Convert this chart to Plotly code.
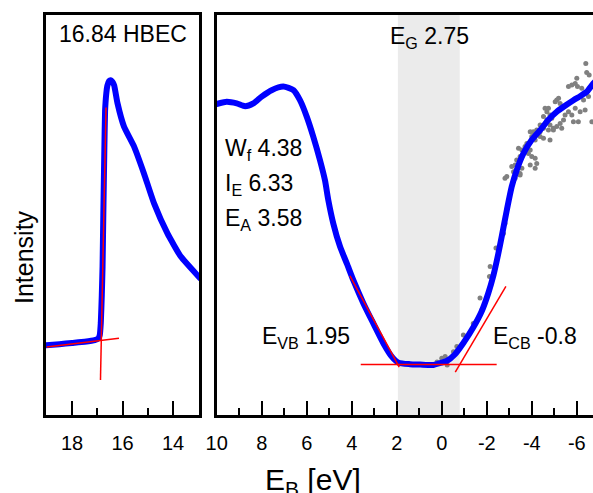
import plotly.graph_objects as go

# ---------------- data ----------------
# secondary electron cutoff (left panel)
cut_e = [19.1, 18.5, 18.0, 17.5, 17.1, 16.95, 16.9, 16.86, 16.82, 16.79, 16.76, 16.72,
         16.69, 16.64, 16.6, 16.53, 16.47, 16.40, 16.33, 16.2, 15.94, 15.54, 15.15,
         14.75, 14.22, 13.69, 12.9]
cut_i = [17.4, 17.7, 18.0, 18.3, 18.7, 19.2, 20.0, 23.0, 30.0, 37.1, 50.0, 66.0,
         76.0, 80.5, 82.3, 83.5, 83.7, 83.3, 82.4, 78.0, 72.1, 67.1, 60.4,
         52.9, 45.4, 39.6, 34.0]

# valence / conduction band spectrum (right panel, smoothed)
spec_e = [10.1, 9.97, 9.56, 9.11, 8.74, 8.37, 8.0, 7.56, 7.04, 6.59, 6.30, 6.0, 5.71,
          5.41, 5.19, 5.04, 4.82, 4.52, 4.22, 3.93, 3.48, 3.04, 2.59, 2.22, 1.93,
          1.41, 0.96, 0.37, 0.07, -0.22, -0.59, -0.96, -1.41, -1.78, -2.07, -2.30,
          -2.50, -2.67, -2.89, -3.11, -3.33, -3.63, -4.0, -4.37, -4.74, -5.11,
          -5.48, -5.85, -6.15, -6.44, -6.73, -6.9]
spec_i = [77.6, 77.8, 78.3, 77.9, 77.2, 77.9, 79.6, 81.2, 82.1, 81.2, 78.7, 74.6, 69.6,
          63.7, 58.7, 53.7, 47.9, 42.1, 37.9, 33.7, 27.9, 22.9, 17.9, 14.6, 13.1,
          12.7, 12.6, 12.5, 13.0, 13.5, 15.2, 18.0, 22.0, 26.0, 30.5, 35.0,
          40.0, 44.8, 51.2, 57.1, 61.2, 65.4, 68.8, 71.2, 73.8, 75.8,
          77.3, 78.7, 79.7, 80.8, 82.9, 83.8]

# raw inverse photoemission points
raw_e = [0.0, -0.15, 0.21, -0.24, -0.52, -0.67, -0.96, -1.4, -1.78, -1.70, -2.12,
         -2.15, -2.41, -2.74, -2.81, -3.26, -3.48,
         -6.40, -6.44, -6.55, -6.0, -5.93, -5.78, -5.63, -6.03, -6.22, -6.67, -6.52,
         -6.30, -6.37, -6.15, -5.93, -5.78, -5.85, -6.07, -6.67, -5.63, -5.48, -5.41,
         -5.26, -5.11, -5.33, -4.96, -5.11, -5.26, -5.19, -5.04, -4.74, -4.59, -4.67,
         -4.81, -4.52, -4.89, -4.67, -4.37, -4.52, -4.81, -4.96, -4.74, -4.37, -4.22,
         -4.07, -3.93, -4.0, -4.37, -4.15, -4.52, -4.81, -3.78, -3.70, -3.93, -3.56,
         -3.41, -3.48, -3.85, -4.0, -4.15, -4.22, -3.33, -3.26, -3.11, -3.19, -3.56,
         -3.48, -2.89, -2.81, -4.15, -3.93]
raw_i = [14.2, 14.6, 13.25, 12.5, 15.8, 17.1, 20.0, 22.9, 26.25, 29.25, 34.6,
         37.1, 41.75, 45.4, 47.9, 59.2, 60.4,
         87.9, 85.6, 85.0, 84.2, 82.9, 82.5, 82.1, 82.1, 81.7, 82.1, 79.6,
         78.75, 76.25, 75.8, 76.7, 75.0, 73.3, 73.3, 73.3, 75.8, 75.0, 73.75,
         72.9, 72.1, 71.7, 71.7, 78.75, 77.9, 79.2, 78.3, 76.7, 76.7, 75.8,
         75.0, 74.6, 74.2, 73.75, 72.5, 71.7, 72.5, 71.25, 71.25, 70.8, 71.25,
         70.8, 70.8, 69.6, 69.6, 68.75, 69.2, 68.75, 67.9, 67.1, 66.25, 66.25,
         66.7, 64.6, 65.4, 64.6, 64.2, 62.9, 63.75, 62.5, 62.1, 60.8, 61.7,
         60.0, 59.6, 59.2, 61.7, 62.5]

# onsets
HBEC = 16.84
E_VB = 1.95
E_CB = -0.8
E_G = 2.75
W_F = 4.38
I_E = 6.33
E_A = 3.58

left_ticks = [18, 16, 14]
left_minor = [17, 15]
right_ticks = [10, 8, 6, 4, 2, 0, -2, -4, -6]
right_labels = ["10", "8", "6", "4", "2", "0", "-2", "-4", "-6"]
right_minor = [9, 7, 5, 3, 1, -1, -3, -5]

# ---------------- fit lines ----------------
base_left_slope = -0.77           # intensity per eV of the cutoff background
base_left = lambda e: 17.0 + (19.0 - e) * (-base_left_slope)
cut_base = base_left(HBEC)
cut_dedi = -0.00323               # eV per intensity unit of the cutoff edge
edge_left_i = [8.75, 76.9]
edge_left_e = [HBEC + (i - cut_base) * cut_dedi for i in edge_left_i]
bg_left_e = [19.0, 16.14]
bg_left_i = [base_left(e) for e in bg_left_e]

base_right = 12.6
vb_slope = 10.42                  # intensity per eV
cb_slope = -9.54
vb_e = [4.08, E_VB - 0.06]
vb_i = [base_right + (e - E_VB) * vb_slope for e in vb_e]
cb_e = [E_CB + 0.2, E_CB - 2.05]
cb_i = [base_right + (e - E_CB) * cb_slope for e in cb_e]
bg_right_e = [3.6, -2.44]
bg_right_i = [base_right, base_right]

# ---------------- figure ----------------
W, H = 593, 493
px = lambda x: x / W
py = lambda y: 1 - y / H

FONT = "Arial, Liberation Sans, sans-serif"
BLUE = "#0000ff"
RED = "#ff0000"

fig = go.Figure()

fig.add_trace(go.Scatter(x=cut_e, y=cut_i, mode="lines",
                         line=dict(color=BLUE, width=6, shape="spline", smoothing=0.4),
                         xaxis="x", yaxis="y", hoverinfo="skip"))
fig.add_trace(go.Scatter(x=bg_left_e, y=bg_left_i, mode="lines", line=dict(color=RED, width=1.5),
                         xaxis="x", yaxis="y"))
fig.add_trace(go.Scatter(x=edge_left_e, y=edge_left_i, mode="lines", line=dict(color=RED, width=1.5),
                         xaxis="x", yaxis="y"))

fig.add_trace(go.Scatter(x=raw_e, y=raw_i, mode="markers",
                         marker=dict(color="#808080", size=5, line=dict(width=0)),
                         xaxis="x2", yaxis="y2"))
fig.add_trace(go.Scatter(x=spec_e, y=spec_i, mode="lines",
                         line=dict(color=BLUE, width=6, shape="spline", smoothing=0.6),
                         xaxis="x2", yaxis="y2"))
for xs, ys in [(bg_right_e, bg_right_i), (vb_e, vb_i), (cb_e, cb_i)]:
    fig.add_trace(go.Scatter(x=xs, y=ys, mode="lines", line=dict(color=RED, width=1.5),
                             xaxis="x2", yaxis="y2"))

# band gap shading
fig.add_shape(type="rect", xref="x2", yref="y2 domain", x0=E_VB, x1=E_CB, y0=0, y1=1,
              fillcolor="#ebebeb", line=dict(width=0), layer="below")

ydom = [py(415), py(15)]
axis_common = dict(showline=True, linecolor="black", linewidth=2.5, showgrid=False,
                   zeroline=False, ticks="inside", ticklen=14, tickwidth=2, tickcolor="black",
                   tickfont=dict(family=FONT, size=20, color="black"), ticklabelstandoff=8,
                   automargin=False)
yaxis_common = dict(range=[0, 100], showline=True, linecolor="black", linewidth=2.5,
                    showticklabels=False, ticks="", showgrid=False, zeroline=False,
                    automargin=False, domain=ydom)

fig.update_layout(
    template="none",
    width=W, height=H, margin=dict(l=0, r=0, t=0, b=0, pad=0),
    paper_bgcolor="white", plot_bgcolor="white", showlegend=False,
    font=dict(family=FONT, color="black"),
    xaxis=dict(domain=[px(46), px(199)], range=[19.03, 12.97], anchor="y", mirror=True,
               tickvals=left_ticks, ticktext=[str(v) for v in left_ticks],
               minor=dict(tickvals=left_minor, ticks="inside", ticklen=7, tickwidth=2,
                          tickcolor="black"),
               **axis_common),
    yaxis=dict(anchor="x", mirror=True, **yaxis_common),
    xaxis2=dict(domain=[px(216.7), 1.0], range=[10.0, -6.72], anchor="y2", mirror=True,
                tickvals=right_ticks, ticktext=right_labels,
                minor=dict(tickvals=right_minor, ticks="inside", ticklen=7, tickwidth=2,
                           tickcolor="black"),
                **axis_common),
    yaxis2=dict(anchor="x2", mirror=False, **yaxis_common),
)

def label(text, x, y, size=23, xanchor="left", angle=0):
    fig.add_annotation(text=text, x=px(x), y=py(y), xref="paper", yref="paper",
                       xanchor=xanchor, yanchor="middle", showarrow=False, textangle=angle,
                       font=dict(family=FONT, size=size, color="black"))

label(f"{HBEC} HBEC", 122.5, 34, xanchor="center")
label(f"E<sub>G</sub> {E_G}", 388, 38)
label(f"W<sub>f</sub> {W_F}", 223, 150)
label(f"I<sub>E</sub> {I_E}", 223, 185)
label(f"E<sub>A</sub> {E_A}", 223, 219)
label(f"E<sub>VB</sub> {E_VB}", 260, 337)
label(f"E<sub>CB</sub> {E_CB}", 491, 337)
label("Intensity", 24, 257, size=25, xanchor="center", angle=-90)
label("E<sub>B</sub> [eV]", 313, 481, size=30, xanchor="center")

fig.write_html("out.html")
